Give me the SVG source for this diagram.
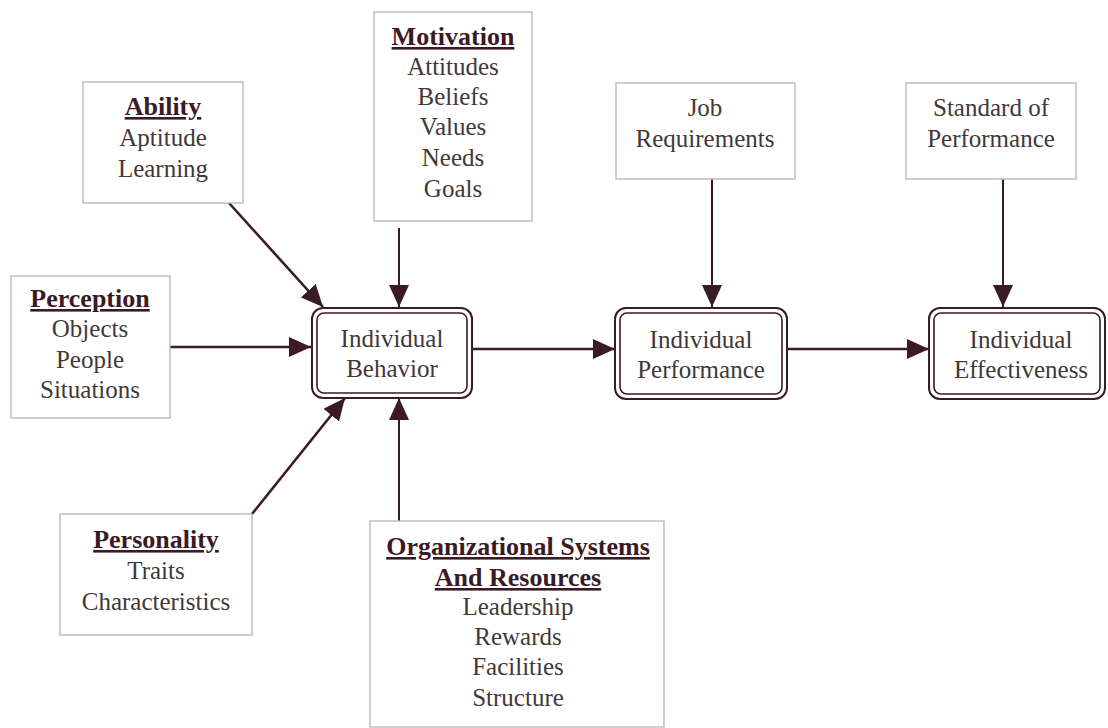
<svg xmlns="http://www.w3.org/2000/svg" width="1108" height="728" viewBox="0 0 1108 728">
<defs>
<marker id="ah" markerUnits="userSpaceOnUse" markerWidth="22" markerHeight="20" refX="22" refY="10" orient="auto">
<path d="M0,0 L22,10 L0,20 Z" fill="#3a1a24"/>
</marker>
<style>
.box{fill:#ffffff;stroke:#b9b3b3;stroke-width:1.3}
.outer{fill:#ffffff;stroke:#3a1a24;stroke-width:2}
.inner{fill:none;stroke:#3a1a24;stroke-width:1.6}
.t{font-family:"Liberation Serif","Times New Roman",serif;font-size:25px;fill:#413838;text-anchor:middle}
.h{font-family:"Liberation Serif","Times New Roman",serif;font-size:26px;font-weight:bold;fill:#3a1a24;text-anchor:middle;text-decoration:underline}
.c{stroke:#3a1a24;stroke-width:2;fill:none;marker-end:url(#ah)}
.c2{stroke:#3a1a24;stroke-width:2.6;fill:none;marker-end:url(#ah)}
</style>
</defs>
<rect width="1108" height="728" fill="#ffffff"/>

<g id="connectors">
<line class="c2" x1="229" y1="203" x2="323" y2="307"/>
<line class="c" x1="399" y1="228" x2="399" y2="307"/>
<line class="c2" x1="170" y1="347" x2="311" y2="347"/>
<line class="c2" x1="252" y1="514" x2="345" y2="398"/>
<line class="c" x1="399" y1="521" x2="399" y2="398"/>
<line class="c2" x1="472" y1="349" x2="615" y2="349"/>
<line class="c2" x1="787" y1="349" x2="929" y2="349"/>
<line class="c" x1="712" y1="179" x2="712" y2="307"/>
<line class="c" x1="1003" y1="179" x2="1003" y2="307"/>
</g>

<g id="ability">
<rect class="box" x="83" y="82" width="160" height="121"/>
<text class="h" x="163" y="115">Ability</text>
<text class="t" x="163" y="146">Aptitude</text>
<text class="t" x="163" y="177">Learning</text>
</g>

<g id="motivation">
<rect class="box" x="374" y="12" width="158" height="209"/>
<text class="h" x="453" y="45">Motivation</text>
<text class="t" x="453" y="75">Attitudes</text>
<text class="t" x="453" y="105">Beliefs</text>
<text class="t" x="453" y="135">Values</text>
<text class="t" x="453" y="166">Needs</text>
<text class="t" x="453" y="197">Goals</text>
</g>

<g id="job-requirements">
<rect class="box" x="616" y="83" width="179" height="96"/>
<text class="t" x="705" y="116">Job</text>
<text class="t" x="705" y="147">Requirements</text>
</g>

<g id="standard-of-performance">
<rect class="box" x="906" y="83" width="170" height="96"/>
<text class="t" x="991" y="116">Standard of</text>
<text class="t" x="991" y="147">Performance</text>
</g>

<g id="perception">
<rect class="box" x="11" y="276" width="159" height="142"/>
<text class="h" x="90" y="307">Perception</text>
<text class="t" x="90" y="337">Objects</text>
<text class="t" x="90" y="368">People</text>
<text class="t" x="90" y="398">Situations</text>
</g>

<g id="individual-behavior">
<rect class="outer" x="312" y="308" width="160" height="90" rx="11"/>
<rect class="inner" x="317" y="313" width="150" height="80" rx="7"/>
<text class="t" x="392" y="347">Individual</text>
<text class="t" x="392" y="377">Behavior</text>
</g>

<g id="individual-performance">
<rect class="outer" x="615" y="308" width="172" height="91" rx="11"/>
<rect class="inner" x="620" y="313" width="162" height="81" rx="7"/>
<text class="t" x="701" y="348">Individual</text>
<text class="t" x="701" y="378">Performance</text>
</g>

<g id="individual-effectiveness">
<rect class="outer" x="929" y="308" width="176" height="91" rx="11"/>
<rect class="inner" x="934" y="313" width="166" height="81" rx="7"/>
<text class="t" x="1021" y="348">Individual</text>
<text class="t" x="1021" y="378">Effectiveness</text>
</g>

<g id="personality">
<rect class="box" x="60" y="514" width="192" height="121"/>
<text class="h" x="156" y="548">Personality</text>
<text class="t" x="156" y="579">Traits</text>
<text class="t" x="156" y="610">Characteristics</text>
</g>

<g id="organizational-systems">
<rect class="box" x="370" y="521" width="294" height="206"/>
<text class="h" x="518" y="555">Organizational Systems</text>
<text class="h" x="518" y="586">And Resources</text>
<text class="t" x="518" y="615">Leadership</text>
<text class="t" x="518" y="645">Rewards</text>
<text class="t" x="518" y="675">Facilities</text>
<text class="t" x="518" y="706">Structure</text>
</g>
</svg>
